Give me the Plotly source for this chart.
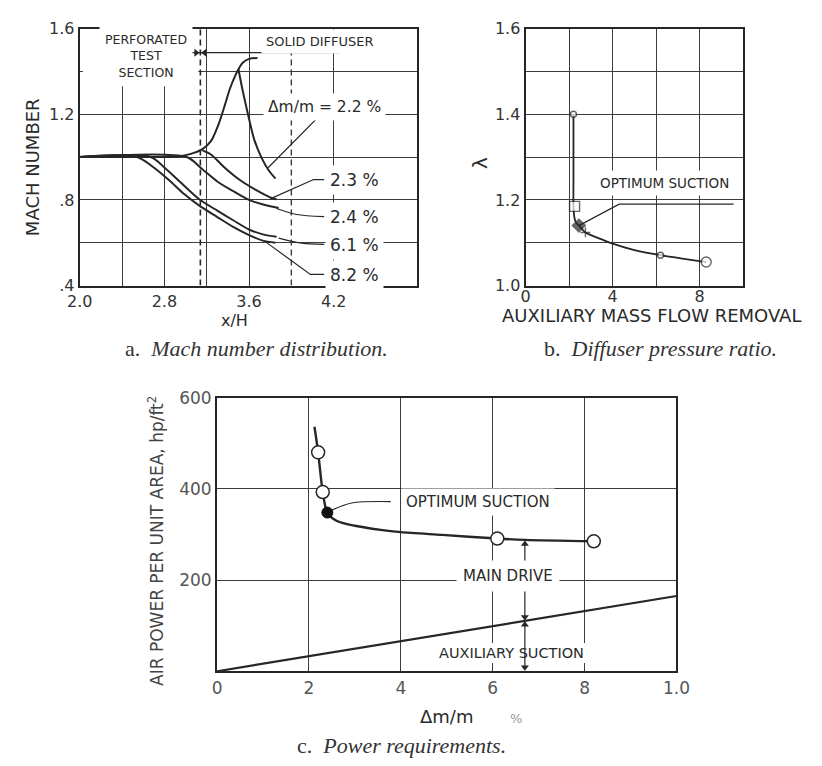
import plotly.graph_objects as go

W, H = 822, 766
INK = "#262626"
GRID = "#3c3c3c"
SANS = "DejaVu Sans"
SERIF = "Liberation Serif"

# ---------------- a. Mach number distribution (x/H vs M) ----------------
a_22_rise_x = [2.0, 2.6, 2.93, 3.05, 3.16, 3.24, 3.31, 3.37, 3.42, 3.47, 3.50, 3.54, 3.60, 3.68]
a_22_rise_m = [1.0, 1.0, 1.003, 1.015, 1.037, 1.074, 1.15, 1.24, 1.32, 1.38, 1.41, 1.44, 1.458, 1.462]
a_22_fall_x = [3.50, 3.54, 3.59, 3.65, 3.72, 3.79, 3.85]
a_22_fall_m = [1.41, 1.31, 1.20, 1.08, 0.995, 0.935, 0.90]
a_23_x = [3.16, 3.24, 3.36, 3.51, 3.66, 3.80, 3.86]
a_23_m = [1.031, 1.012, 0.955, 0.894, 0.848, 0.812, 0.803]
a_24_x = [2.0, 3.01, 3.15, 3.30, 3.45, 3.60, 3.75, 3.88]
a_24_m = [1.0, 1.0, 0.947, 0.886, 0.841, 0.800, 0.776, 0.762]
a_61_x = [2.0, 2.67, 2.81, 2.96, 3.13, 3.30, 3.45, 3.60, 3.74, 3.86]
a_61_m = [1.0, 1.0, 0.947, 0.879, 0.803, 0.750, 0.705, 0.662, 0.638, 0.628]
a_82_x = [2.0, 2.54, 2.69, 2.84, 2.99, 3.13, 3.30, 3.45, 3.60, 3.73, 3.85]
a_82_m = [1.0, 1.0, 0.955, 0.894, 0.826, 0.773, 0.720, 0.674, 0.636, 0.610, 0.600]
a_x_ticks = [2.0, 2.4, 2.8, 3.2, 3.6, 4.4]
a_x_text = ["2.0", "", "2.8", "", "3.6", "4.2"]
a_y_ticks = [0.4, 0.6, 0.8, 1.0, 1.2, 1.4, 1.6]
a_y_text = [".4", "", ".8", "", "1.2", "", "1.6"]
a_labels = ["\u0394m/m = 2.2 %", "2.3 %", "2.4 %", "6.1 %", "8.2 %"]

# ---------------- b. Diffuser pressure ratio ----------------
b_curve_x = [2.2, 2.2, 2.2, 2.24, 2.32, 2.45, 2.75, 3.5, 4.0, 5.0, 6.2, 7.2, 8.3]
b_curve_l = [1.40, 1.25, 1.19, 1.16, 1.147, 1.14, 1.124, 1.108, 1.098, 1.083, 1.071, 1.063, 1.055]
b_pts_x = [2.2, 2.25, 2.45, 2.75, 6.2, 8.3]
b_pts_l = [1.40, 1.185, 1.14, 1.124, 1.071, 1.055]
b_x_ticks = [0, 2, 4, 6, 8, 10]
b_x_text = ["0", "", "4", "", "8", ""]
b_y_ticks = [1.0, 1.1, 1.2, 1.3, 1.4, 1.5, 1.6]
b_y_text = ["1.0", "", "1.2", "", "1.4", "", "1.6"]

# ---------------- c. Power requirements ----------------
c_main_x = [2.12, 2.2, 2.3, 2.4, 2.6, 3.0, 3.56, 4.0, 4.9, 6.1, 6.7, 8.2]
c_main_p = [536, 480, 393, 348, 330, 319, 310, 305, 299, 291, 288, 285]
c_open_x = [2.2, 2.3, 6.1, 8.2]
c_open_p = [480, 393, 291, 285]
c_opt_x = [2.4]
c_opt_p = [348]
c_aux_x = [0, 10]
c_aux_p = [0, 165]
c_x_ticks = [0, 2, 4, 6, 8, 10]
c_x_text = ["0", "2", "4", "6", "8", "1.0"]
c_y_ticks = [0, 200, 400, 600]
c_y_text = ["", "200", "400", "600"]


def fx(px):
    return px / W


def fy(py):
    return 1 - py / H


fig = go.Figure()


def line(x, y, xa, ya, width=2.0, shape="spline", dash="solid", color=INK):
    fig.add_trace(go.Scatter(x=x, y=y, xaxis=xa, yaxis=ya, mode="lines",
                             line=dict(color=color, width=width, shape=shape, dash=dash,
                                       smoothing=0.8),
                             hoverinfo="skip"))


def heads(x, y, symbols, xa, ya, size=8):
    fig.add_trace(go.Scatter(x=x, y=y, xaxis=xa, yaxis=ya, mode="markers",
                             hoverinfo="skip",
                             marker=dict(symbol=symbols, size=size, color=INK,
                                         line=dict(width=0))))


# panel a curves
line(a_22_rise_x, a_22_rise_m, "x", "y")
line(a_22_fall_x, a_22_fall_m, "x", "y")
line(a_23_x, a_23_m, "x", "y")
line(a_24_x, a_24_m, "x", "y")
line(a_61_x, a_61_m, "x", "y")
line(a_82_x, a_82_m, "x", "y")
# section boundary and dashed reference
line([3.14, 3.14], [0.4, 1.6], "x", "y", width=1.6, shape="linear", dash="6px,4px")
line([4.0, 4.0], [0.4, 1.50], "x", "y", width=1.4, shape="linear", dash="6px,4px", color=GRID)
line([2.90, 4.46], [1.487, 1.487], "x", "y", width=1.3, shape="linear")
heads([3.10, 3.18], [1.487, 1.487], ["triangle-right", "triangle-left"], "x", "y", size=7)
# leaders for the labels
line([3.78, 4.24, 4.85], [0.95, 1.18, 1.18], "x", "y", width=1.2, shape="linear")
line([3.80, 4.21, 4.31], [0.805, 0.895, 0.895], "x", "y", width=1.2, shape="linear")
line([3.86, 4.05, 4.31], [0.760, 0.732, 0.722], "x", "y", width=1.2, shape="spline")
line([3.88, 4.10, 4.31], [0.622, 0.598, 0.592], "x", "y", width=1.2, shape="spline")
line([3.76, 4.18, 4.31], [0.603, 0.452, 0.452], "x", "y", width=1.2, shape="linear")

# panel b
line(b_curve_x, b_curve_l, "x2", "y2", width=1.8)
line([2.45, 4.30, 9.56], [1.14, 1.19, 1.19], "x2", "y2", width=1.2, shape="linear")
fig.add_trace(go.Scatter(
    x=b_pts_x, y=b_pts_l, xaxis="x2", yaxis="y2", mode="markers", hoverinfo="skip",
    marker=dict(symbol=["circle", "square", "diamond", "cross-thin", "circle", "circle"],
                size=[6, 10, 10, 7, 6, 10],
                color=["white", "white", INK, INK, "white", "white"],
                line=dict(color=INK, width=1.4))))

# panel c
line(c_aux_x, c_aux_p, "x3", "y3", width=2.2, shape="linear")
line(c_main_x, c_main_p, "x3", "y3", width=2.4)
line([2.42, 2.93, 3.78], [350, 369, 372], "x3", "y3", width=1.2, shape="spline")
fig.add_trace(go.Scatter(x=c_open_x, y=c_open_p, xaxis="x3", yaxis="y3", mode="markers",
                         hoverinfo="skip",
                         marker=dict(symbol="circle", size=13, color="white",
                                     line=dict(color=INK, width=1.5))))
fig.add_trace(go.Scatter(x=c_opt_x, y=c_opt_p, xaxis="x3", yaxis="y3", mode="markers",
                         hoverinfo="skip",
                         marker=dict(symbol="circle", size=11, color="#111",
                                     line=dict(color="#111", width=1))))
# dimension lines for the drive and suction shares
line([6.7, 6.7], [240, 283], "x3", "y3", width=1.2, shape="linear")
line([6.7, 6.7], [180, 114], "x3", "y3", width=1.2, shape="linear")
line([6.7, 6.7], [4, 107], "x3", "y3", width=1.2, shape="linear")
heads([6.7, 6.7, 6.7, 6.7], [279, 119, 102, 9],
      ["triangle-up", "triangle-down", "triangle-up", "triangle-down"], "x3", "y3", size=7)

axis_common = dict(showgrid=True, gridcolor=GRID, gridwidth=1.1, zeroline=False,
                   showline=True, mirror=True, linecolor=INK, linewidth=2,
                   ticks="", tickmode="array", fixedrange=True,
                   tickfont=dict(family=SANS, size=16, color="#333"))
c_font = dict(family=SANS, size=17, color="#555")

fig.update_layout(
    width=W, height=H, margin=dict(l=0, r=0, t=0, b=0),
    paper_bgcolor="white", plot_bgcolor="white", showlegend=False,
    xaxis=dict(axis_common, domain=[fx(69), fx(418)], range=[2.0, 5.19], anchor="y",
               tickvals=a_x_ticks, ticktext=a_x_text),
    yaxis=dict(axis_common, domain=[fy(283), fy(19)], range=[0.4, 1.6], anchor="x",
               tickvals=a_y_ticks, ticktext=a_y_text),
    xaxis2=dict(axis_common, domain=[fx(530), fx(755)], range=[0, 10], anchor="y2",
                tickvals=b_x_ticks, ticktext=b_x_text, ticklabelstandoff=-5),
    yaxis2=dict(axis_common, domain=[fy(283), fy(19)], range=[1.0, 1.6], anchor="x2",
                tickvals=b_y_ticks, ticktext=b_y_text),
    xaxis3=dict(axis_common, domain=[fx(211), fx(686)], range=[0, 10], anchor="y3",
                tickvals=c_x_ticks, ticktext=c_x_text, tickfont=c_font),
    yaxis3=dict(axis_common, domain=[fy(679), fy(398)], range=[0, 600], anchor="x3",
                tickvals=c_y_ticks, ticktext=c_y_text, tickfont=c_font),
    # white masks over the grid behind two headings
    shapes=[dict(type="rect", xref="x", yref="y", x0=2.03, x1=3.12, y0=1.33, y1=1.59,
                 fillcolor="white", line=dict(width=0), layer="between"),
            dict(type="rect", xref="x3", yref="y3", x0=4.6, x1=8.2, y0=18, y1=62,
                 fillcolor="white", line=dict(width=0), layer="between")],
)

ann = []


def text(t, x, y, xref, yref, size=13, bg="white", pad=2, angle=0, color="#2a2a2a",
         family=SANS, xanchor="center"):
    ann.append(dict(text=t, x=x, y=y, xref=xref, yref=yref, showarrow=False,
                    font=dict(family=family, size=size, color=color),
                    bgcolor=bg, borderpad=pad, textangle=angle, xanchor=xanchor,
                    yanchor="middle"))


# panel a labels
text("PERFORATED<br>TEST<br>SECTION", 2.63, 1.472, "x", "y", size=12.5, pad=5)
text("SOLID DIFFUSER", 4.27, 1.538, "x", "y", size=13, pad=4)
text(a_labels[0], 4.31, 1.232, "x", "y", size=15.5, pad=4)
text(a_labels[1], 4.60, 0.895, "x", "y", size=17, pad=4)
text(a_labels[2], 4.60, 0.722, "x", "y", size=17, pad=4)
text(a_labels[3], 4.60, 0.590, "x", "y", size=17, pad=4)
text(a_labels[4], 4.60, 0.450, "x", "y", size=17, pad=4)

# panel b label
text("OPTIMUM SUCTION", 6.4, 1.239, "x2", "y2", size=13.5, pad=4)

# panel c labels
text("OPTIMUM SUCTION", 5.68, 372, "x3", "y3", size=15, pad=4)
text("MAIN DRIVE", 6.33, 208, "x3", "y3", size=15, pad=6)
text("AUXILIARY SUCTION", 6.40, 40, "x3", "y3", size=14.5, bg=None)

# axis titles
text("MACH NUMBER", fx(20), fy(161), "paper", "paper", size=18, bg=None, angle=-90)
text("x/H", fx(229), fy(319), "paper", "paper", size=16, bg=None)
text("\u03bb", fx(483), fy(157), "paper", "paper", size=20, bg=None, angle=-90)
text("AUXILIARY MASS FLOW REMOVAL", fx(660), fy(314), "paper", "paper", size=18, bg=None)
text("AIR POWER PER UNIT AREA, hp/ft<sup>2</sup>", fx(148), fy(545), "paper", "paper",
     size=17, bg=None, angle=-90, color="#444")
text("\u0394m/m", fx(448), fy(725), "paper", "paper", size=18, bg=None)
text("%", fx(520), fy(727), "paper", "paper", size=13, bg=None, color="#999")

# captions
text("a.  <i>Mach number distribution.</i>", fx(252), fy(348), "paper", "paper",
     size=22, bg=None, family=SERIF, color="#333")
text("b.  <i>Diffuser pressure ratio.</i>", fx(669), fy(348), "paper", "paper",
     size=22, bg=None, family=SERIF, color="#333")
text("c.  <i>Power requirements.</i>", fx(402), fy(755), "paper", "paper",
     size=22, bg=None, family=SERIF, color="#333")

fig.update_layout(annotations=ann)
fig.write_html("out.html")
